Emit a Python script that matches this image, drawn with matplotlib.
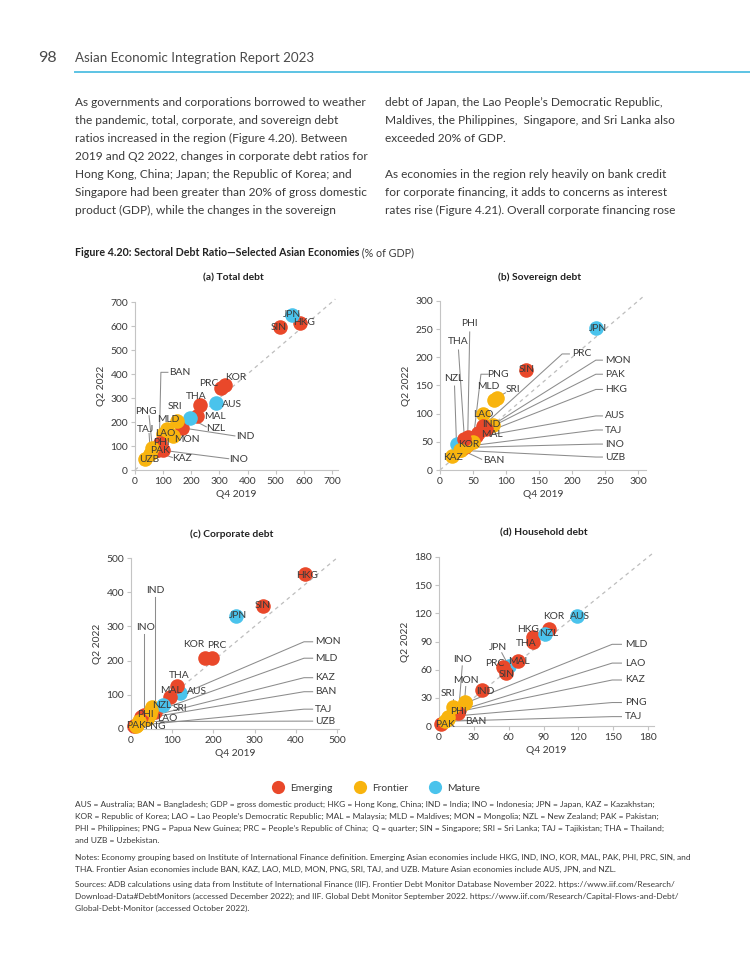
import matplotlib
matplotlib.use('Agg')
import matplotlib.pyplot as plt
from matplotlib.lines import Line2D

plt.rcParams['font.family'] = ['Lato', 'DejaVu Sans']

W, H = 750, 971

codes = ['AUS', 'BAN', 'HKG', 'IND', 'INO', 'JPN', 'KAZ', 'KOR', 'LAO', 'MAL', 'MLD',
         'MON', 'NZL', 'PAK', 'PHI', 'PNG', 'PRC', 'SIN', 'SRI', 'TAJ', 'THA', 'UZB']
groups = ['Mature', 'Frontier', 'Emerging', 'Emerging', 'Emerging', 'Mature', 'Frontier',
          'Emerging', 'Frontier', 'Emerging', 'Frontier', 'Frontier', 'Mature', 'Emerging',
          'Emerging', 'Frontier', 'Emerging', 'Emerging', 'Frontier', 'Frontier', 'Emerging',
          'Frontier']

# % of GDP, Q4 2019 vs Q2 2022
total_q4_2019 = [287, 86, 586, 166, 100, 557, 72, 320, 98, 219, 115, 135, 197, 82, 88, 62, 305, 515, 150, 55, 231, 35]
total_q2_2022 = [278, 92, 614, 176, 82, 646, 78, 355, 150, 226, 172, 140, 215, 85, 112, 92, 342, 596, 206, 65, 269, 46]

sov_q4_2019 = [45, 32, 55, 72, 38, 237, 18, 42, 65, 57, 82, 80, 25, 70, 42, 50, 65, 130, 86, 40, 37, 30]
sov_q2_2022 = [56, 36, 60, 76, 40, 252, 24, 47, 100, 65, 124, 80, 46, 72, 58, 50, 78, 178, 128, 42, 55, 35]

corp_q4_2019 = [119, 28, 422, 58, 32, 256, 40, 180, 40, 95, 45, 52, 78, 8, 25, 15, 196, 320, 48, 12, 112, 20]
corp_q2_2022 = [104, 30, 452, 50, 40, 331, 35, 207, 28, 94, 45, 65, 70, 8, 35, 12, 207, 361, 55, 10, 127, 22]

hh_q4_2019 = [119, 8, 81, 37, 17, 60, 12, 95, 14, 68, 22, 22, 91, 2, 16, 8, 55, 58, 12, 5, 81, None]
hh_q2_2022 = [117, 7, 95, 38, 17, 64, 14, 103, 15, 69, 24, 26, 98, 2, 14, 10, 63, 56, 20, 5, 89, None]

colors = {'Emerging': '#E9482A', 'Frontier': '#F8B40E', 'Mature': '#4AC3EC'}

# label layout: (code, text x, text y, ha, leader path from text towards the point)
labels_a = [
    ('JPN', 557, 646, 'center', []), ('HKG', 600, 614, 'center', []),
    ('SIN', 512, 592, 'center', []), ('KOR', 357, 386, 'center', []),
    ('PRC', 262, 360, 'center', []), ('THA', 219, 305, 'center', []),
    ('AUS', 345, 271, 'center', []), ('MAL', 283, 222, 'center', []),
    ('NZL', 286, 174, 'center', [(253, 180)]), ('IND', 392, 139, 'center', [(355, 142)]),
    ('SRI', 142, 264, 'center', []), ('MLD', 120, 210, 'center', []),
    ('MON', 183, 129, 'center', []), ('LAO', 107, 151, 'center', []),
    ('PNG', 39, 243, 'center', [(50, 226)]), ('TAJ', 39, 167, 'center', [(50, 152)]),
    ('PHI', 95, 116, 'center', []), ('PAK', 89, 80, 'center', []),
    ('UZB', 51, 45, 'center', []), ('KAZ', 166, 49, 'center', [(133, 52)]),
    ('INO', 367, 45, 'center', [(333, 47)]),
    ('BAN', 160, 407, 'center', [(117, 407), (92, 407)]),
]
labels_b = [
    ('JPN', 240, 251, 'center', []), ('SIN', 131, 178, 'center', []),
    ('PHI', 45, 260, 'center', [(45, 245)]), ('THA', 27, 228, 'center', [(28, 213)]),
    ('NZL', 20, 163, 'center', [(22, 149)]), ('PNG', 88, 170, 'center', [(73, 170), (62, 170)]),
    ('MLD', 73, 148, 'center', []), ('SRI', 110, 143, 'center', [(99, 137)]),
    ('LAO', 66, 99, 'center', []), ('IND', 78, 80, 'center', []),
    ('MAL', 78, 63, 'center', []), ('KOR', 44, 46, 'center', []),
    ('KAZ', 20, 23, 'center', []), ('BAN', 66, 17, 'left', [(63, 19)]),
    ('PRC', 200, 206, 'left', [(196, 206), (185, 206)]),
] + [(c, 250, y, 'left', [(246, y), (236, y)]) for c, y in
     [('MON', 195), ('PAK', 170), ('HKG', 143), ('AUS', 96), ('TAJ', 71), ('INO', 46), ('UZB', 23)]]
labels_c = [
    ('HKG', 428, 450, 'center', []), ('SIN', 321, 360, 'center', []),
    ('JPN', 259, 331, 'center', []), ('KOR', 153, 248, 'center', []),
    ('PRC', 209, 244, 'center', []), ('THA', 117, 156, 'center', []),
    ('MAL', 97, 113, 'center', []), ('AUS', 160, 111, 'center', []),
    ('NZL', 74, 70, 'center', []), ('SRI', 118, 60, 'center', []),
    ('IND', 60, 404, 'center', [(58, 385)]), ('INO', 36, 296, 'center', [(32, 278)]),
    ('PHI', 36, 41, 'center', []), ('LAO', 88, 31, 'center', []),
    ('PAK', 12, 9, 'center', []), ('PNG', 58, 8, 'center', []),
] + [(c, 446, y, 'left', [(441, y), (420, y)]) for c, y in
     [('MON', 255), ('MLD', 207), ('KAZ', 150), ('BAN', 109), ('TAJ', 58), ('UZB', 23)]]
labels_d = [
    ('AUS', 121, 117, 'center', []), ('KOR', 99, 117, 'center', []),
    ('NZL', 94, 98, 'center', []), ('HKG', 77, 103, 'center', []),
    ('THA', 75, 88, 'center', []), ('JPN', 51, 84, 'center', [(54, 78)]),
    ('PRC', 48, 67, 'center', []), ('MAL', 69, 69, 'center', []),
    ('SIN', 58, 55, 'center', []), ('IND', 40, 37, 'center', []),
    ('MON', 23, 48, 'center', [(23, 42)]), ('SRI', 8, 35, 'center', [(12, 29)]),
    ('INO', 20, 71, 'center', [(20, 64)]), ('PHI', 17, 15, 'center', []),
    ('PAK', 5, 2, 'center', []), ('BAN', 32, 5, 'center', [(24, 6)]),
] + [(c, 160, y, 'left', [(157, y), (149, y)]) for c, y in
     [('MLD', 87), ('LAO', 67), ('KAZ', 49), ('PNG', 25), ('TAJ', 10)]]

panels = [
    ('(a) Total debt', total_q4_2019, total_q2_2022, labels_a, (135, 337.6, 302, 470),
     (0, 720), (0, 700), range(0, 701, 100), range(0, 701, 100), 712),
    ('(b) Sovereign debt', sov_q4_2019, sov_q2_2022, labels_b, (440, 646, 301, 470),
     (0, 312), (0, 300), range(0, 301, 50), range(0, 301, 50), 310),
    ('(c) Corporate debt', corp_q4_2019, corp_q2_2022, labels_c, (131, 339, 558, 729),
     (0, 505), (0, 500), range(0, 501, 100), range(0, 501, 100), 503),
    ('(d) Household debt', hh_q4_2019, hh_q2_2022, labels_d, (439, 654, 557, 726),
     (0, 185), (0, 180), range(0, 181, 30), range(0, 181, 30), 185),
]

fig = plt.figure(figsize=(W / 100, H / 100), dpi=100)

def fx(x):
    return x / W

def fy(y):
    return 1 - y / H

txt = '#3a3a3a'
grey = '#c4c4c4'

for title, xs, ys, labels, box, xlim, ylim, xt, yt, dmax in panels:
    x0, x1, y0, y1 = box
    ax = fig.add_axes([fx(x0), fy(y1), (x1 - x0) / W, (y1 - y0) / H])
    ax.set_xlim(xlim)
    ax.set_ylim(ylim)
    ax.set_xticks(list(xt))
    ax.set_yticks(list(yt))
    for s in ['top', 'right']:
        ax.spines[s].set_visible(False)
    for s in ['left', 'bottom']:
        ax.spines[s].set_color(grey)
        ax.spines[s].set_linewidth(0.8)
    ax.tick_params(colors=grey, labelcolor=txt, labelsize=7.4, length=3, width=0.8, pad=2)
    ax.patch.set_alpha(0)
    ax.plot([0, dmax], [0, dmax], ls=(0, (3, 3)), color='#bdbdbd', lw=0.9, clip_on=False, zorder=1)
    pts = {}
    for c, g, x, y in zip(codes, groups, xs, ys):
        if x is None:
            continue
        pts[c] = (x, y)
        ax.scatter([x], [y], s=110, color=colors[g], linewidths=0, zorder=3, clip_on=False)
    for c, tx, ty, ha, path in labels:
        if path:
            px = [p[0] for p in path] + [pts[c][0]]
            py = [p[1] for p in path] + [pts[c][1]]
            ax.plot(px, py, color='#8c8c8c', lw=0.75, zorder=2, clip_on=False)
        ax.text(tx, ty, c, ha=ha, va='center', fontsize=7.4, color=txt, zorder=5)
    fig.text(fx((x0 + x1) / 2 - 3), fy(y0 - 24), title, ha='center', va='center',
             fontsize=7.4, fontweight='bold', color='#222')
    ax.set_xlabel('Q4 2019', fontsize=7.4, color=txt, labelpad=3)
    ax.set_ylabel('Q2 2022', fontsize=7.4, color=txt, labelpad=3)

# legend
handles = [Line2D([], [], marker='o', ls='', markersize=9.5, markerfacecolor=colors[k],
                  markeredgewidth=0) for k in ['Emerging', 'Frontier', 'Mature']]
fig.legend(handles, ['Emerging', 'Frontier', 'Mature'], loc='center', ncol=3, frameon=False,
           bbox_to_anchor=(fx(374), fy(788)), fontsize=7.4, handletextpad=0.2,
           columnspacing=1.6, labelcolor=txt)

# page header
fig.text(fx(38), fy(58), '98', fontsize=11.5, color='#4a4a4a', va='center')
fig.text(fx(75), fy(58), 'Asian Economic Integration Report 2023', fontsize=9.6,
         color='#4a4a4a', va='center')
fig.add_artist(Line2D([fx(75), 1], [fy(72), fy(72)], color='#5CC3E4', lw=1.4))

left_col = [
    'As governments and corporations borrowed to weather',
    'the pandemic, total, corporate, and sovereign debt',
    'ratios increased in the region (Figure 4.20). Between',
    '2019 and Q2 2022, changes in corporate debt ratios for',
    'Hong Kong, China; Japan; the Republic of Korea; and',
    'Singapore had been greater than 20% of gross domestic',
    'product (GDP), while the changes in the sovereign',
]
right_col = [
    'debt of Japan, the Lao People\u2019s Democratic Republic,',
    'Maldives, the Philippines,  Singapore, and Sri Lanka also',
    'exceeded 20% of GDP.',
    '',
    'As economies in the region rely heavily on bank credit',
    'for corporate financing, it adds to concerns as interest',
    'rates rise (Figure 4.21). Overall corporate financing rose',
]
for i, line in enumerate(left_col):
    fig.text(fx(75), fy(102 + 18 * i), line, fontsize=8.55, color=txt, va='center')
for i, line in enumerate(right_col):
    fig.text(fx(385), fy(102 + 18 * i), line, fontsize=8.55, color=txt, va='center')

t = fig.text(fx(75), fy(253), 'Figure 4.20: Sectoral Debt Ratio\u2014Selected Asian Economies',
             fontsize=7.7, fontweight='bold', color='#222', va='center')
r = fig.canvas.get_renderer()
bb = t.get_window_extent(renderer=r)
fig.text(bb.x1 / W, fy(253), ' (% of GDP)', fontsize=7.7, color=txt, va='center')

notes = [
    (804, 'AUS = Australia; BAN = Bangladesh; GDP = gross domestic product; HKG = Hong Kong, China; IND = India; INO = Indonesia; JPN = Japan, KAZ = Kazakhstan;'),
    (816, 'KOR = Republic of Korea; LAO = Lao People\u2019s Democratic Republic; MAL = Malaysia; MLD = Maldives; MON = Mongolia; NZL = New Zealand; PAK = Pakistan;'),
    (828, 'PHI = Philippines; PNG = Papua New Guinea; PRC = People\u2019s Republic of China;  Q = quarter; SIN = Singapore; SRI = Sri Lanka; TAJ = Tajikistan; THA = Thailand;'),
    (840, 'and UZB = Uzbekistan.'),
    (857, 'Notes: Economy grouping based on Institute of International Finance definition. Emerging Asian economies include HKG, IND, INO, KOR, MAL, PAK, PHI, PRC, SIN, and'),
    (869, 'THA. Frontier Asian economies include BAN, KAZ, LAO, MLD, MON, PNG, SRI, TAJ, and UZB. Mature Asian economies include AUS, JPN, and NZL.'),
    (884, 'Sources: ADB calculations using data from Institute of International Finance (IIF). Frontier Debt Monitor Database November 2022. https://www.iif.com/Research/'),
    (896, 'Download-Data#DebtMonitors (accessed December 2022); and IIF. Global Debt Monitor September 2022. https://www.iif.com/Research/Capital-Flows-and-Debt/'),
    (908, 'Global-Debt-Monitor (accessed October 2022).'),
]
for y, line in notes:
    fig.text(fx(75), fy(y), line, fontsize=6.0, color=txt, va='center')

fig.savefig('out.png', dpi=100, facecolor='white')
